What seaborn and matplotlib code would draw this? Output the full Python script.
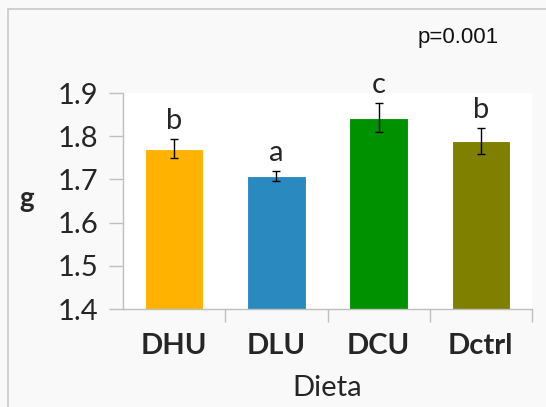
import matplotlib
matplotlib.use("Agg")
import matplotlib.pyplot as plt
import seaborn as sns
import pandas as pd
from matplotlib.patches import Rectangle

# data
dietas = ["DHU", "DLU", "DCU", "Dctrl"]
medias = [1.771, 1.708, 1.843, 1.788]
errores = [0.022, 0.011, 0.034, 0.030]
letras = ["b", "a", "c", "b"]
colores = ["#FFB300", "#2A8AC0", "#009100", "#808000"]
y_ticks = [1.4, 1.5, 1.6, 1.7, 1.8, 1.9]

sns.set_theme(style="white")
plt.rcParams["font.family"] = ["Lato", "DejaVu Sans"]

df = pd.DataFrame({"Dieta": dietas, "g": medias})

fig = plt.figure(figsize=(5.46, 4.07), dpi=100, facecolor="#f9f9f9")
ax = fig.add_axes([123 / 546, 98 / 407, 409 / 546, 216 / 407])
ax.set_facecolor("white")

sns.barplot(data=df, x="Dieta", y="g", hue="Dieta", palette=colores, saturation=1,
            width=0.57, legend=False, ax=ax, edgecolor="white", linewidth=0.8)
ax.errorbar(range(len(dietas)), medias, yerr=errores, fmt="none",
            ecolor="black", elinewidth=1, capsize=3, capthick=1)

for i, (m, e, l) in enumerate(zip(medias, errores, letras)):
    ax.text(i, m + e + 0.012, l, ha="center", va="bottom", fontsize=21)

ax.set_ylim(1.4, 1.9)
ax.set_yticks(y_ticks)
ax.set_yticklabels([f"{t:.1f}" for t in y_ticks], fontsize=21)
ax.set_xlim(-0.5, 3.5)
ax.set_xticks(range(len(dietas)))
ax.set_xticklabels(dietas, fontsize=21, fontweight="bold")
ax.tick_params(axis="x", length=0, pad=17)
ax.tick_params(axis="y", length=10, width=1, color="#bfbfbf", pad=8, left=True)
# category boundary ticks on the bottom axis
ax.set_xticks([0.5, 1.5, 2.5, 3.5], minor=True)
ax.tick_params(axis="x", which="minor", length=9, width=1, color="#bfbfbf", bottom=True)

for s in ["top", "right"]:
    ax.spines[s].set_visible(False)
for s in ["left", "bottom"]:
    ax.spines[s].set_color("#bfbfbf")
    ax.spines[s].set_linewidth(1)

ax.set_xlabel("Dieta", fontsize=21, labelpad=12)
ax.set_ylabel("g", fontsize=20, fontweight="bold", rotation=0, ha="center", va="center")
ax.yaxis.set_label_coords(-0.235, 0.51)

fig.text(458 / 546, 1 - 37 / 407, "p=0.001", ha="center", va="center",
         fontsize=16, family="Liberation Sans", color="#111111")

# outer chart frame (top and left edges visible)
fig.patches.append(Rectangle((8 / 546, -0.1), 1.2, 1 - 9 / 407 + 0.1,
                             transform=fig.transFigure, fill=False,
                             edgecolor="#c8c8c8", linewidth=1.2))

fig.savefig("out.png", dpi=100, facecolor=fig.get_facecolor())
